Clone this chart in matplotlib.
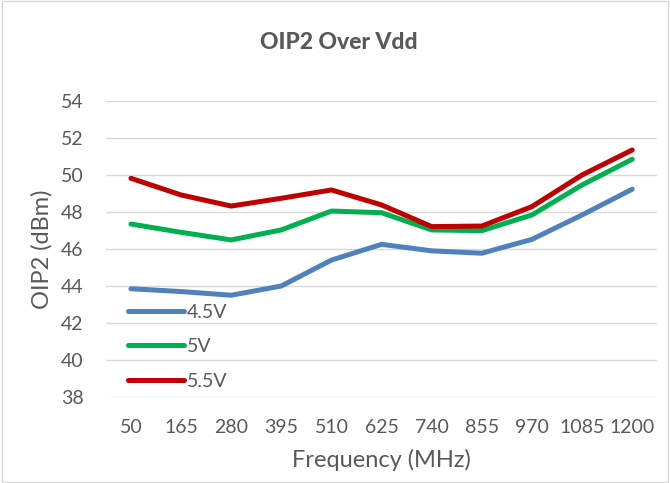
import matplotlib.pyplot as plt
import numpy as np

plt.rcParams['font.family'] = ['Lato', 'DejaVu Sans']

freqs = ['50', '165', '280', '395', '510', '625', '740', '855', '970', '1085', '1200']
oip2_45v = [43.85, 43.7, 43.5, 44.0, 45.4, 46.25, 45.9, 45.77, 46.52, 47.84, 49.23]
oip2_5v = [47.35, 46.9, 46.49, 47.03, 48.05, 47.96, 47.03, 46.99, 47.84, 49.46, 50.85]
oip2_55v = [49.82, 48.92, 48.32, 48.74, 49.19, 48.38, 47.21, 47.24, 48.29, 50.0, 51.35]

series = [('4.5V', oip2_45v, '#4f81bd'),
          ('5V', oip2_5v, '#00b050'),
          ('5.5V', oip2_55v, '#c00000')]

txt = '#595959'
fig = plt.figure(figsize=(6.7, 4.83), dpi=100)
ax = fig.add_axes([0.158, 0.178, 0.823, 0.613])

x = np.arange(len(freqs))
for name, vals, col in series:
    ax.plot(x, vals, color=col, lw=3.6, label=name, solid_capstyle='round')

ax.set_xlim(-0.5, len(freqs) - 0.5)
ax.set_ylim(38, 54)
ax.set_yticks(np.arange(38, 55, 2))
ax.set_xticks(x)
ax.set_xticklabels(freqs)
ax.grid(axis='y', color='#d9d9d9', lw=1)
ax.set_axisbelow(True)
for s in ax.spines.values():
    s.set_visible(False)
ax.tick_params(length=0, labelsize=14, labelcolor=txt)
ax.tick_params(axis='y', pad=16)
ax.tick_params(axis='x', pad=16)

ax.set_xlabel('Frequency (MHz)', fontsize=17, color=txt, labelpad=9)
ax.set_ylabel('OIP2 (dBm)', fontsize=17, color=txt, labelpad=6)
fig.text(0.506, 0.912, 'OIP2 Over Vdd', ha='center', va='center',
         fontsize=16.5, fontweight='black', color=txt)

leg = ax.legend(loc='upper left', bbox_to_anchor=(0.04, 0.315), frameon=False,
                fontsize=14, handlelength=2.9, handletextpad=0.15,
                labelspacing=0.9, borderaxespad=0, borderpad=0, labelcolor=txt)

# outer chart border
fig.patches.append(plt.Rectangle((0.003, 0.003), 0.994, 0.994, transform=fig.transFigure,
                                 fill=False, edgecolor='#d9d9d9', lw=1))

fig.savefig('out.png', dpi=100)
